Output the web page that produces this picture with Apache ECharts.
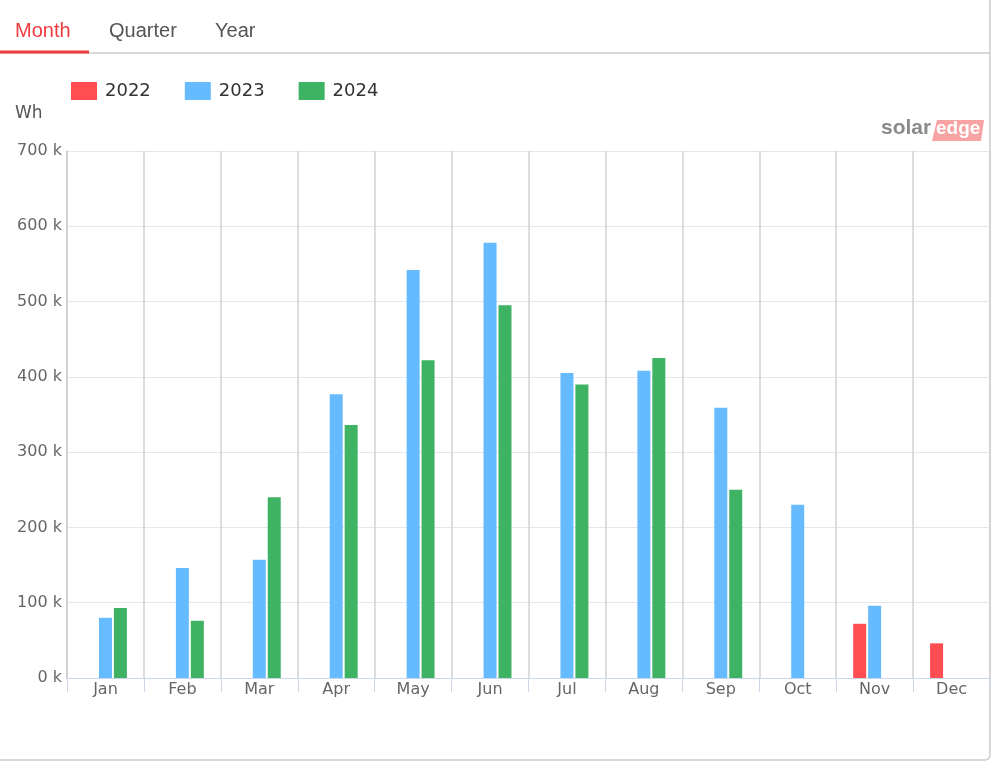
<!DOCTYPE html>
<html>
<head>
<meta charset="utf-8">
<script src="https://cdn.jsdelivr.net/npm/echarts@6/dist/echarts.min.js"></script>
<style>
html,body{margin:0;padding:0;background:#fff;}
#chart{width:1000px;height:767px;}
</style>
</head>
<body>
<div id="chart"></div>
<script>
const categories = ['Jan','Feb','Mar','Apr','May','Jun','Jul','Aug','Sep','Oct','Nov','Dec'];
const seriesNames = ['2022','2023','2024'];
const values2022 = [null,null,null,null,null,null,null,null,null,null,72000,46000];
const values2023 = [80000,146000,157000,377000,542000,578000,405000,408000,359000,230000,96000,null];
const values2024 = [93000,76000,240000,336000,422000,495000,390000,425000,250000,null,null,null];
const yTicks = [0,100000,200000,300000,400000,500000,600000,700000];
const tabs = ['Month','Quarter','Year'];

const colors = ['#ff4d51','#66bbff','#3fb364'];
const chart = echarts.init(document.getElementById('chart'));
const font = 'DejaVu Sans';
const option = {
  animation:false,
  color: colors,
  textStyle:{fontFamily:font},
  grid:{left:67,right:10,top:151,bottom:89,containLabel:false},
  legend:{
    left:71, top:82, padding:0, icon:'rect', itemWidth:26, itemHeight:18, itemGap:34,
    textStyle:{fontSize:18,color:'#333',fontFamily:font,padding:[3,0,0,3]},
    data:seriesNames
  },
  xAxis:{
    type:'category', data:categories, boundaryGap:true,
    axisLine:{show:true,lineStyle:{color:'#ccd6eb',width:1}},
    axisTick:{show:true,length:14,lineStyle:{color:'#ccd6eb'}},
    axisLabel:{fontSize:16,color:'#666',margin:4,fontFamily:font},
    splitLine:{show:true,interval:0,lineStyle:{color:'#d2d2d2',width:1.5}}
  },
  yAxis:{
    type:'value', min:yTicks[0], max:yTicks[yTicks.length-1], interval:100000,
    axisLine:{show:true,lineStyle:{color:'#d0d0d0',width:1.5}},
    axisTick:{show:false},
    axisLabel:{fontSize:16,color:'#666',margin:5,padding:[3,0,0,0],fontFamily:font,formatter:v=>(v/1000)+' k'},
    splitLine:{show:true,lineStyle:{color:'#e3e7ed',width:1.2}}
  },
  series:[
    {name:seriesNames[0],type:'bar',data:values2022,barWidth:13,barGap:'15%'},
    {name:seriesNames[1],type:'bar',data:values2023,barWidth:13,barGap:'15%'},
    {name:seriesNames[2],type:'bar',data:values2024,barWidth:13,barGap:'15%'}
  ],
  graphic:[
    {type:'rect',shape:{x:-6,y:-6,width:996,height:766,r:5},style:{fill:'none',stroke:'#cccccc',lineWidth:1.5},z:-1,silent:true},
    {type:'line',shape:{x1:0,y1:53,x2:990,y2:53},style:{stroke:'#cccccc',lineWidth:1.5}},
    {type:'rect',shape:{x:0,y:50.5,width:89,height:3},style:{fill:'#ee3b3f'}},
    {type:'text',left:15,top:21,style:{text:tabs[0],fontSize:20,fill:'#ee3b3f',fontFamily:'Liberation Sans'}},
    {type:'text',left:109,top:21,style:{text:tabs[1],fontSize:20,fill:'#555',fontFamily:'Liberation Sans'}},
    {type:'text',left:215,top:21,style:{text:tabs[2],fontSize:20,fill:'#555',fontFamily:'Liberation Sans'}},
    {type:'text',left:15,top:105,style:{text:'Wh',fontSize:17,fill:'#555',fontFamily:font}},
    {type:'text',left:881,top:118,style:{text:'solar',fontSize:21,fontWeight:'bold',fill:'#8a8a8a',fontFamily:'Liberation Sans'}},
    {type:'polygon',shape:{points:[[937,120],[984,120],[981,141],[932,141]]},style:{fill:'#f8a3a3'}},
    {type:'text',left:936,top:119,style:{text:'edge',fontSize:19,fontWeight:'bold',fill:'#ffffff',fontFamily:'Liberation Sans'}}
  ]
};
chart.setOption(option);
</script>
</body>
</html>
